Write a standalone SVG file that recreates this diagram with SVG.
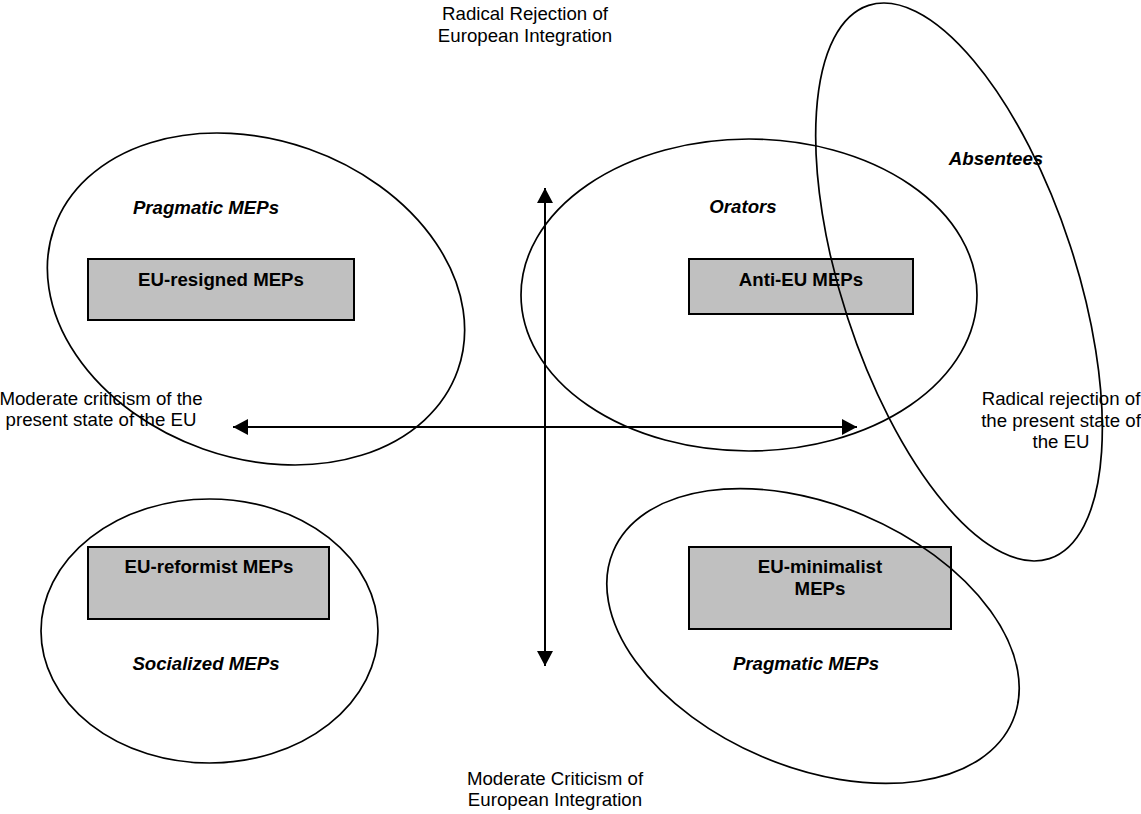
<svg xmlns="http://www.w3.org/2000/svg" width="1141" height="814" viewBox="0 0 1141 814">
<style>
text{font-family:"Liberation Sans",Arial,sans-serif;font-size:18.67px;fill:#000}
.bx{fill:#c0c0c0;stroke:#000;stroke-width:2}
.bt{font-weight:bold;text-anchor:middle}
.it{font-weight:bold;font-style:italic;text-anchor:middle}
.ax{text-anchor:middle}
.el{fill:none;stroke:#000;stroke-width:1.7}
.ar{stroke:#000;stroke-width:2;fill:none}
</style>
<defs>
<marker id="ah" viewBox="0 0 15 16" refX="15" refY="8" markerWidth="15" markerHeight="16" markerUnits="userSpaceOnUse" orient="auto-start-reverse">
<path d="M0,0 L15,8 L0,16 z" fill="#000"/>
</marker>
</defs>
<rect width="1141" height="814" fill="#fff"/>

<g id="axis-labels">
<text class="ax" x="525" y="20">Radical Rejection of</text>
<text class="ax" x="525" y="42">European Integration</text>
<text class="ax" x="555" y="785">Moderate Criticism of</text>
<text class="ax" x="555" y="806">European Integration</text>
<text class="ax" x="101" y="405">Moderate criticism of the</text>
<text class="ax" x="101" y="426">present state of the EU</text>
<text class="ax" x="1061" y="405">Radical rejection of</text>
<text class="ax" x="1061" y="427">the present state of</text>
<text class="ax" x="1061" y="448">the EU</text>
</g>

<g id="node-eu-resigned">
<rect class="bx" x="88" y="259" width="266" height="61"/>
<text class="bt" x="221" y="286">EU-resigned MEPs</text>
</g>
<g id="node-anti-eu">
<rect class="bx" x="689" y="259" width="224" height="55"/>
<text class="bt" x="801" y="286">Anti-EU MEPs</text>
</g>
<g id="node-eu-reformist">
<rect class="bx" x="88" y="547" width="241" height="72"/>
<text class="bt" x="209" y="573">EU-reformist MEPs</text>
</g>
<g id="node-eu-minimalist">
<rect class="bx" x="689" y="547" width="262" height="82"/>
<text class="bt" x="820" y="573">EU-minimalist</text>
<text class="bt" x="820" y="595">MEPs</text>
</g>

<g id="cluster-pragmatic-top">
<ellipse class="el" cx="256" cy="299" rx="214" ry="159" transform="rotate(19.4 256 299)"/>
<text class="it" x="206" y="214">Pragmatic MEPs</text>
</g>
<g id="cluster-orators">
<ellipse class="el" cx="749" cy="295" rx="228" ry="156"/>
<text class="it" x="743" y="213">Orators</text>
</g>
<g id="cluster-absentees">
<ellipse class="el" cx="959" cy="282" rx="291" ry="117" transform="rotate(71.9 959 282)"/>
<text class="it" x="996" y="165">Absentees</text>
</g>
<g id="cluster-socialized">
<ellipse class="el" cx="209.5" cy="631" rx="168.5" ry="132"/>
<text class="it" x="206" y="670">Socialized MEPs</text>
</g>
<g id="cluster-pragmatic-bottom">
<ellipse class="el" cx="813" cy="636" rx="217" ry="131" transform="rotate(23 813 636)"/>
<text class="it" x="806" y="670">Pragmatic MEPs</text>
</g>

<g id="connectors">
<line class="ar" x1="233" y1="427" x2="857" y2="427" marker-start="url(#ah)" marker-end="url(#ah)"/>
<line class="ar" x1="545" y1="188" x2="545" y2="666" marker-start="url(#ah)" marker-end="url(#ah)"/>
</g>
</svg>
